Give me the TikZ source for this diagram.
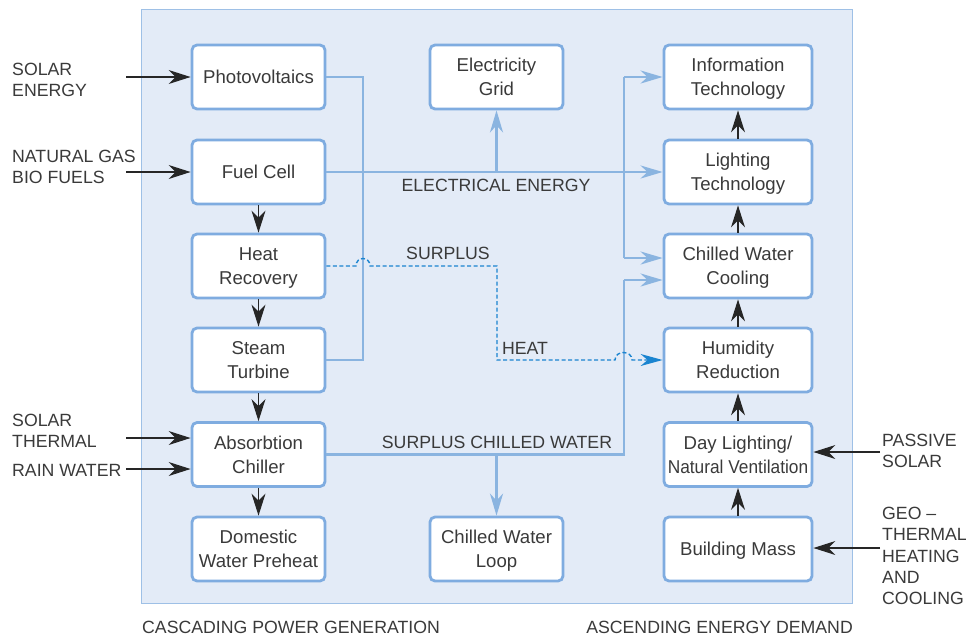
\documentclass[tikz,border=0pt]{standalone}
\usepackage{fontspec}
\usepackage{graphicx}
\setmainfont{Liberation Sans}
\usetikzlibrary{arrows.meta,calc}
\definecolor{panelfill}{HTML}{E3EBF7}
\definecolor{panelline}{HTML}{9EC0E6}
\definecolor{boxline}{HTML}{7FACE0}
\definecolor{flow}{HTML}{8AB4E0}
\definecolor{heat}{HTML}{1A84D0}
\definecolor{txt}{HTML}{3A3A3A}
\tikzset{
  box/.style={draw=boxline, line width=2.8pt, rounded corners=5pt, fill=white,
    text=txt, align=center, minimum height=64pt, text depth=-4pt,
    font=\fontsize{18.6}{23.8}\selectfont, inner sep=1pt},
  lbox/.style={box, minimum width=133pt},
  rbox/.style={box, minimum width=148pt},
  flowline/.style={draw=flow, line width=2.8pt},
  flowarrow/.style={flowline, -{Stealth[length=22pt,width=13pt,inset=7pt]}},
  blackarrow/.style={draw=black!85, line width=1.2pt, -{Stealth[length=22pt,width=14pt,inset=7pt]}},
  heatline/.style={draw=heat, line width=1.4pt, dash pattern=on 4pt off 2.5pt},
  heatarrow/.style={heatline, -{Stealth[length=22pt,width=12pt,inset=7pt]}},
  lbl/.style={text=txt, font=\fontsize{17.7}{21.3}\selectfont, inner sep=0pt},
}
\begin{document}
\begin{tikzpicture}[x=1pt,y=-1pt]
\useasboundingbox (0,0) rectangle (968,638);
\draw[panelline, fill=panelfill, line width=1pt] (141.7,9.5) rectangle (852,603);

% left column
\node[lbox] (pv) at (258.5,77) {Photovoltaics};
\node[lbox] (fc) at (258.5,172) {Fuel Cell};
\node[lbox] (hr) at (258.5,266) {Heat\\Recovery};
\node[lbox] (st) at (258.5,360) {Steam\\Turbine};
\node[lbox] (ac) at (258.5,454.5) {Absorbtion\\Chiller};
\node[lbox] (dw) at (258.5,549) {Domestic\\Water Preheat};
% middle column
\node[lbox] (eg) at (496.5,77) {Electricity\\Grid};
\node[lbox] (cwl) at (496.5,549) {Chilled Water\\Loop};
% right column
\node[rbox] (it) at (738,77) {Information\\Technology};
\node[rbox] (lt) at (738,172) {Lighting\\Technology};
\node[rbox] (cwc) at (738,266) {Chilled Water\\Cooling};
\node[rbox] (hum) at (738,360) {Humidity\\Reduction};
\node[rbox] (dl) at (738,454.5) {Day Lighting/\\\scalebox{0.93}[1]{Natural Ventilation}};
\node[rbox] (bm) at (738,549) {Building Mass};

% bus coordinates
\coordinate (lbus) at (363,0);
\coordinate (mbus) at (497,0);
\coordinate (rbus) at (624,0);
\coordinate (cwcA) at ($(cwc.west)+(0,-8)$);
\coordinate (cwcB) at ($(cwc.west)+(0,14)$);

% PV / steam turbine bus
\draw[flowline] (pv.east) -- (pv.east -| lbus) -- (st.east -| lbus) -- (st.east);
% electrical energy
\draw[flowarrow] (fc.east) -- (lt.west);
\draw[flowarrow] (eg.south |- fc.east) -- (eg.south);
\draw[flowarrow] (it.west -| rbus) -- (it.west);
\draw[flowline] (it.west -| rbus) -- (cwcA -| rbus);
\draw[flowarrow] (cwcA -| rbus) -- (cwcA);
% surplus chilled water
\draw[flowline] (ac.east) -- (ac.east -| rbus) -- (cwcB -| rbus);
\draw[flowarrow] (cwcB -| rbus) -- (cwcB);
\draw[flowarrow] (cwl.north |- ac.east) -- (cwl.north);

% surplus heat (dashed, with hops)
\draw[heatarrow] (hr.east) -- (356,266) .. controls (356,256) and (370,256) .. (370,266)
  -- (hr.east -| mbus) -- (hum.west -| mbus) -- (615,360)
  .. controls (615,350) and (632,350) .. (632,360) -- (hum.west);

% black arrows, left column (down)
\draw[blackarrow] (fc.south) -- (hr.north);
\draw[blackarrow] (hr.south) -- (st.north);
\draw[blackarrow] (st.south) -- (ac.north);
\draw[blackarrow] (ac.south) -- (dw.north);
% right column (up)
\draw[blackarrow] (bm.north) -- (dl.south);
\draw[blackarrow] (dl.north) -- (hum.south);
\draw[blackarrow] (hum.north) -- (cwc.south);
\draw[blackarrow] (cwc.north) -- (lt.south);
\draw[blackarrow] (lt.north) -- (it.south);

% inputs
\coordinate (inA) at (126,77);
\coordinate (inB) at (126,172);
\coordinate (inC) at (126,438);
\coordinate (inD) at (126,469);
\coordinate (inE) at (880,452);
\coordinate (inF) at (880,548);
\draw[blackarrow] (inA) -- (inA -| pv.west);
\draw[blackarrow] (inB) -- (inB -| fc.west);
\draw[blackarrow] (inC) -- (inC -| ac.west);
\draw[blackarrow] (inD) -- (inD -| ac.west);
\draw[blackarrow] (inE) -- (inE -| dl.east);
\draw[blackarrow] (inF) -- (inF -| bm.east);

% outside labels
\node[lbl, anchor=west, align=left] (tA) at (12,80) {SOLAR\\ENERGY};
\node[lbl, anchor=west, align=left] (tB) at (12,167) {NATURAL GAS\\BIO FUELS};
\node[lbl, anchor=west, align=left] (tC) at (12,431) {SOLAR\\THERMAL};
\node[lbl, anchor=west, align=left] (tD) at (12,470) {RAIN WATER};
\node[lbl, anchor=west, align=left] (tE) at (882,451) {PASSIVE\\SOLAR};
\node[lbl, anchor=west, align=left] (tF) at (882,556) {GEO –\\THERMAL\\HEATING\\AND\\COOLING};

% flow labels
\node[lbl] (lEE) at (496,185) {ELECTRICAL ENERGY};
\node[lbl] (lSP) at (448,253) {SURPLUS};
\node[lbl] (lHT) at (525,348) {HEAT};
\node[lbl] (lSC) at (497,442) {SURPLUS CHILLED WATER};

% captions
\node[lbl, anchor=west] (cL) at (142,627) {CASCADING POWER GENERATION};
\node[lbl, anchor=east] (cR) at (853,627) {ASCENDING ENERGY DEMAND};
\end{tikzpicture}
\end{document}
